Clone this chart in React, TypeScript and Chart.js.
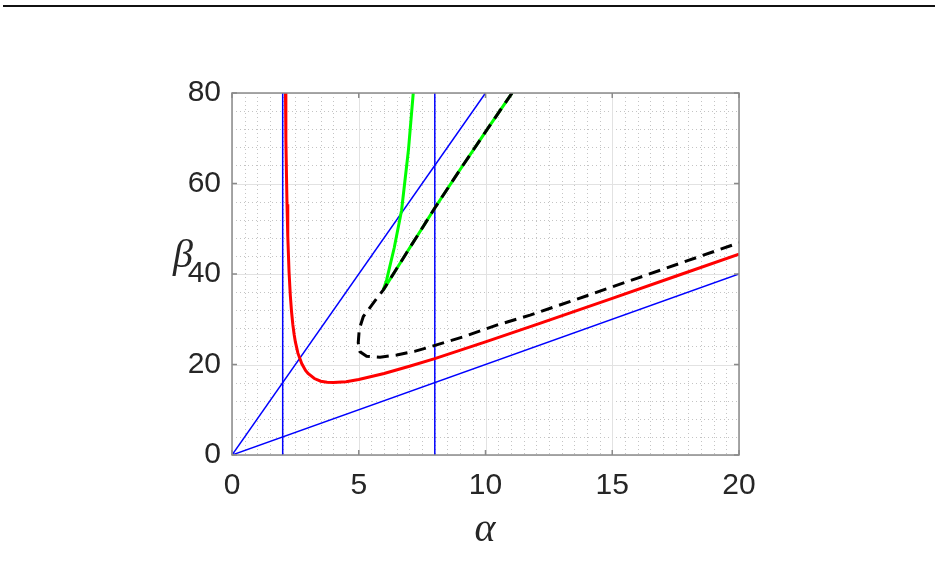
import React, { useEffect, useRef } from "react";
import { Chart, registerables } from "chart.js";

Chart.register(...registerables);

const xTicks = [0, 5, 10, 15, 20];
const yTicks = [0, 20, 40, 60, 80];
const xMinorStep = 0.5;
const yMinorStep = 4;

// blue reference lines
const blueV1 = [ { x: 2, y: 0 }, { x: 2, y: 80 } ];
const blueV2 = [ { x: 8, y: 0 }, { x: 8, y: 80 } ];
const blueSteep = [ { x: 0, y: 0 }, { x: 10, y: 80 } ];
const blueShallow = [ { x: 0, y: 0 }, { x: 20, y: 40 } ];

// red curve
const redAlpha = [2.11, 2.12, 2.13, 2.15, 2.17, 2.2, 2.25, 2.3, 2.35, 2.4, 2.45, 2.5, 2.6, 2.75, 2.9, 3, 3.25, 3.5, 3.75, 4, 4.5, 5, 6, 7, 8, 10, 12, 15, 17.5, 20];
const redBeta = [80, 74.9, 69.8, 61.6, 55.4, 48.4, 40.5, 35.3, 31.6, 28.8, 26.7, 25, 22.5, 20.2, 18.7, 18, 16.9, 16.3, 16.07, 16, 16.2, 16.7, 18, 19.6, 21.3, 25, 28.8, 34.6, 39.5, 44.4];

// green curve (steep branch, then branch along the dashed curve)
const greenSteepAlpha = [7.15, 6.96, 6.69, 6.4, 6.1, 5.97];
const greenSteepBeta = [80, 67.4, 54.1, 45.8, 38.7, 36.5];
const greenUpperAlpha = [5.97, 6.5, 7, 7.5, 8, 9, 10.18, 11.05];
const greenUpperBeta = [36.5, 41.2, 45.7, 50.1, 54.6, 63.1, 72.9, 80];

// black dashed curve
const dashAlpha = [11.05, 10.18, 9, 8, 7.5, 7, 6.5, 5.97, 5.55, 5.18, 5.02, 4.98, 5.05, 5.31, 5.84, 6.5, 7.2, 7.81, 9.12, 10.44, 11.76, 14, 16, 18, 20];
const dashBeta = [80, 72.9, 63.1, 54.6, 50.1, 45.7, 41.2, 36.5, 33.4, 30.6, 27.8, 24.8, 22.8, 21.8, 21.6, 22.1, 22.9, 23.9, 26.1, 28.7, 30.9, 35.2, 39.1, 43.0, 46.9];

const zip = (xs: number[], ys: number[]) => xs.map((x, i) => ({ x, y: ys[i] }));

const deco = {
  id: "deco",
  beforeDatasetsDraw(chart: any) {
    const { ctx, chartArea: a, scales } = chart;
    const xs = scales.x, ys = scales.y;
    ctx.save();
    ctx.strokeStyle = "#c4c4c4";
    ctx.lineWidth = 1;
    ctx.setLineDash([1, 3]);
    for (let v = 0; v <= 20 + 1e-9; v += xMinorStep) {
      if (xTicks.some((t) => Math.abs(t - v) < 1e-9)) continue;
      const px = Math.round(xs.getPixelForValue(v)) + 0.5;
      ctx.beginPath(); ctx.moveTo(px, a.top); ctx.lineTo(px, a.bottom); ctx.stroke();
    }
    for (let v = 0; v <= 80 + 1e-9; v += yMinorStep) {
      if (yTicks.some((t) => Math.abs(t - v) < 1e-9)) continue;
      const py = Math.round(ys.getPixelForValue(v)) + 0.5;
      ctx.beginPath(); ctx.moveTo(a.left, py); ctx.lineTo(a.right, py); ctx.stroke();
    }
    ctx.setLineDash([]);
    ctx.strokeStyle = "#e2e2e2";
    for (const v of xTicks) {
      const px = Math.round(xs.getPixelForValue(v)) + 0.5;
      ctx.beginPath(); ctx.moveTo(px, a.top); ctx.lineTo(px, a.bottom); ctx.stroke();
    }
    for (const v of yTicks) {
      const py = Math.round(ys.getPixelForValue(v)) + 0.5;
      ctx.beginPath(); ctx.moveTo(a.left, py); ctx.lineTo(a.right, py); ctx.stroke();
    }
    ctx.restore();
  },
  afterDatasetsDraw(chart: any) {
    const { ctx, chartArea: a, scales } = chart;
    const xs = scales.x, ys = scales.y;
    ctx.save();
    ctx.strokeStyle = "#8a8a8a";
    ctx.lineWidth = 1.5;
    ctx.strokeRect(a.left, a.top, a.right - a.left, a.bottom - a.top);
    const tl = 5;
    for (const v of xTicks) {
      const px = xs.getPixelForValue(v);
      ctx.beginPath(); ctx.moveTo(px, a.bottom); ctx.lineTo(px, a.bottom - tl); ctx.stroke();
      ctx.beginPath(); ctx.moveTo(px, a.top); ctx.lineTo(px, a.top + tl); ctx.stroke();
    }
    for (const v of yTicks) {
      const py = ys.getPixelForValue(v);
      ctx.beginPath(); ctx.moveTo(a.left, py); ctx.lineTo(a.left + tl, py); ctx.stroke();
      ctx.beginPath(); ctx.moveTo(a.right, py); ctx.lineTo(a.right - tl, py); ctx.stroke();
    }
    ctx.fillStyle = "#262626";
    ctx.font = "italic 40px 'Liberation Serif', 'DejaVu Serif', serif";
    ctx.textAlign = "center";
    ctx.textBaseline = "alphabetic";
    const drawCentered = (txt: string, cx: number, cy: number) => {
      const m = ctx.measureText(txt);
      const asc = m.actualBoundingBoxAscent, desc = m.actualBoundingBoxDescent;
      ctx.fillText(txt, cx, cy + (asc - desc) / 2);
    };
    drawCentered("α", 485, 531);
    drawCentered("β", 183, 257);
    ctx.strokeStyle = "#111111";
    ctx.lineWidth = 2;
    ctx.beginPath(); ctx.moveTo(3, 6); ctx.lineTo(935, 6); ctx.stroke();
    ctx.restore();
  },
};

export default function App() {
  const ref = useRef<HTMLCanvasElement>(null);
  useEffect(() => {
    document.body.style.margin = "0";
    const blue = "#0000ff";
    const line = (data: any[], color: string, width: number, order: number, dash: number[] = []) => ({
      data,
      borderColor: color,
      backgroundColor: color,
      borderWidth: width,
      borderDash: dash,
      showLine: true,
      pointRadius: 0,
      tension: 0,
      fill: false,
      order,
    });
    const chart = new Chart(ref.current!, {
      type: "scatter",
      data: {
        datasets: [
          line(blueV1, blue, 1.5, 6),
          line(blueV2, blue, 1.5, 6),
          line(blueSteep, blue, 1.5, 6),
          line(blueShallow, blue, 1.5, 6),
          line(zip(redAlpha, redBeta), "#ff0000", 3, 4),
          line(zip(greenSteepAlpha, greenSteepBeta), "#00ff00", 3, 3),
          line(zip(greenUpperAlpha, greenUpperBeta), "#00ff00", 3, 3),
          line(zip(dashAlpha, dashBeta), "#000000", 3, 1, [12, 7]),
        ],
      },
      options: {
        animation: false,
        responsive: false,
        layout: { padding: { left: 0, top: 93, right: 209, bottom: 0 } },
        plugins: { legend: { display: false }, tooltip: { enabled: false } },
        scales: {
          x: {
            type: "linear",
            min: 0,
            max: 20,
            afterFit: (s: any) => { s.height = 115; },
            afterBuildTicks: (s: any) => { s.ticks = xTicks.map((v) => ({ value: v })); },
            grid: { display: false },
            border: { display: false },
            ticks: { color: "#262626", padding: 5, font: { size: 30, family: "'Liberation Sans', Arial, sans-serif" } },
          },
          y: {
            type: "linear",
            min: 0,
            max: 80,
            afterFit: (s: any) => { s.width = 232; },
            afterBuildTicks: (s: any) => { s.ticks = yTicks.map((v) => ({ value: v })); },
            grid: { display: false },
            border: { display: false },
            ticks: { color: "#262626", padding: 3, font: { size: 30, family: "'Liberation Sans', Arial, sans-serif" } },
          },
        },
      },
      plugins: [deco],
    });
    return () => chart.destroy();
  }, []);
  return (
    <div style={{ width: 948, height: 570 }}>
      <canvas ref={ref} width={948} height={570} />
    </div>
  );
}
